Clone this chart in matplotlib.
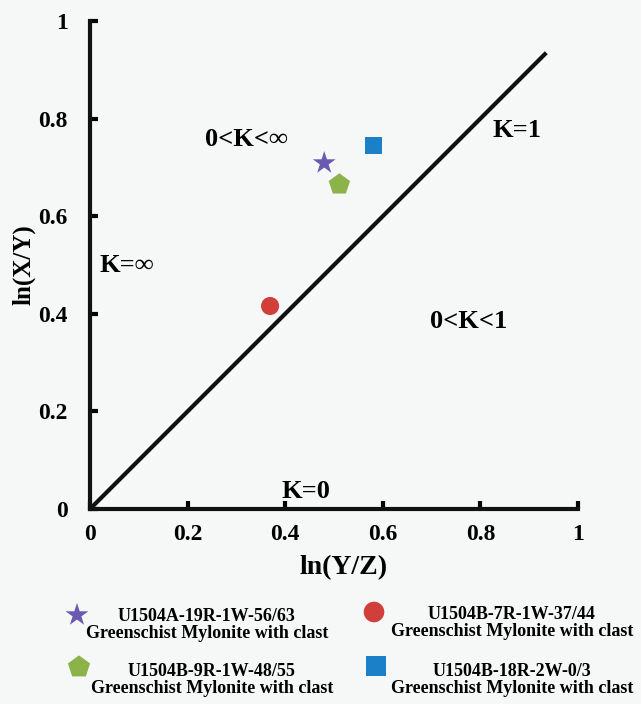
import numpy as np
import matplotlib.pyplot as plt

plt.rcParams['font.family'] = ['Liberation Serif', 'DejaVu Serif']
plt.rcParams['font.weight'] = 'bold'

# sample data: ln(Y/Z), ln(X/Y)
samples = ['U1504A-19R-1W-56/63', 'U1504B-7R-1W-37/44',
           'U1504B-9R-1W-48/55', 'U1504B-18R-2W-0/3']
lithology = 'Greenschist Mylonite with clast'
ln_yz = [0.480, 0.369, 0.511, 0.580]
ln_xy = [0.709, 0.416, 0.665, 0.744]
markers = ['*', 'o', 'p', 's']
colors = ['#6a5bb0', '#d13f3b', '#8cb24a', '#1c80c8']
sizes = [300, 170, 260, 150]

# K=1 line
k1_x = [0, 0.935]
k1_y = [0, 0.935]

bg = '#f6f8f8'
W, H = 641, 704
fig = plt.figure(figsize=(W / 100, H / 100), dpi=100, facecolor=bg)
ax = fig.add_axes([90 / W, 1 - 509 / H, 488 / W, 488 / H])
ax.set_facecolor(bg)

ax.plot(k1_x, k1_y, color='#111111', lw=3, zorder=2, solid_capstyle='butt')
for i in range(len(samples)):
    ax.scatter(ln_yz[i], ln_xy[i], marker=markers[i], s=sizes[i],
               color=colors[i], edgecolors='none', zorder=3)

ticks = [0, 0.2, 0.4, 0.6, 0.8, 1]
tick_labels = ['0', '0.2', '0.4', '0.6', '0.8', '1']
ax.set_xlim(0, 1)
ax.set_ylim(0, 1)
ax.set_xticks(ticks)
ax.set_yticks(ticks)
ax.set_xticklabels(tick_labels)
ax.set_yticklabels(tick_labels)
for s in ['top', 'right']:
    ax.spines[s].set_visible(False)
for s in ['left', 'bottom']:
    ax.spines[s].set_linewidth(3)
    ax.spines[s].set_color('#111111')
ax.tick_params(direction='in', length=6, width=3, labelsize=17)
ax.tick_params(axis='x', pad=11)
ax.tick_params(axis='y', pad=16)
for lab in ax.get_xticklabels() + ax.get_yticklabels():
    lab.set_fontweight('bold')
ax.set_xlabel('ln(Y/Z)', fontsize=20, fontweight='bold')
ax.set_ylabel('ln(X/Y)', fontsize=18, fontweight='bold')
ax.xaxis.set_label_coords(0.52, -0.094)
ax.yaxis.set_label_coords(-0.112, 0.5)

txt = dict(fontsize=19, fontweight='bold', ha='center', va='center')
ax.text(0.32, 0.757, '0<K<∞', **txt)
ax.text(0.876, 0.776, 'K=1', **txt)
ax.text(0.075, 0.50, 'K=∞', **txt)
ax.text(0.775, 0.385, '0<K<1', **txt)
ax.text(0.443, 0.036, 'K=0', **txt)

# legend drawn by hand in a pixel-space overlay
lax = fig.add_axes([0, 0, 1, 1], zorder=-1)
lax.set_xlim(0, W)
lax.set_ylim(H, 0)
lax.axis('off')
marker_pos = [(77, 615), (374, 612), (79, 667), (376, 666)]
text_pos = [(207, 625), (512, 623), (212, 680), (512, 680)]
legend_sizes = [300, 220, 280, 190]
for i in range(len(samples)):
    mx, my = marker_pos[i]
    lax.scatter(mx, my, marker=markers[i], s=legend_sizes[i], color=colors[i],
                edgecolors='none')
    tx, ty = text_pos[i]
    lax.text(tx, ty, samples[i] + '\n' + lithology, ha='center', va='center',
             multialignment='center', fontsize=13, fontweight='bold',
             linespacing=1.05)

fig.savefig('out.png', dpi=100, facecolor=bg)
